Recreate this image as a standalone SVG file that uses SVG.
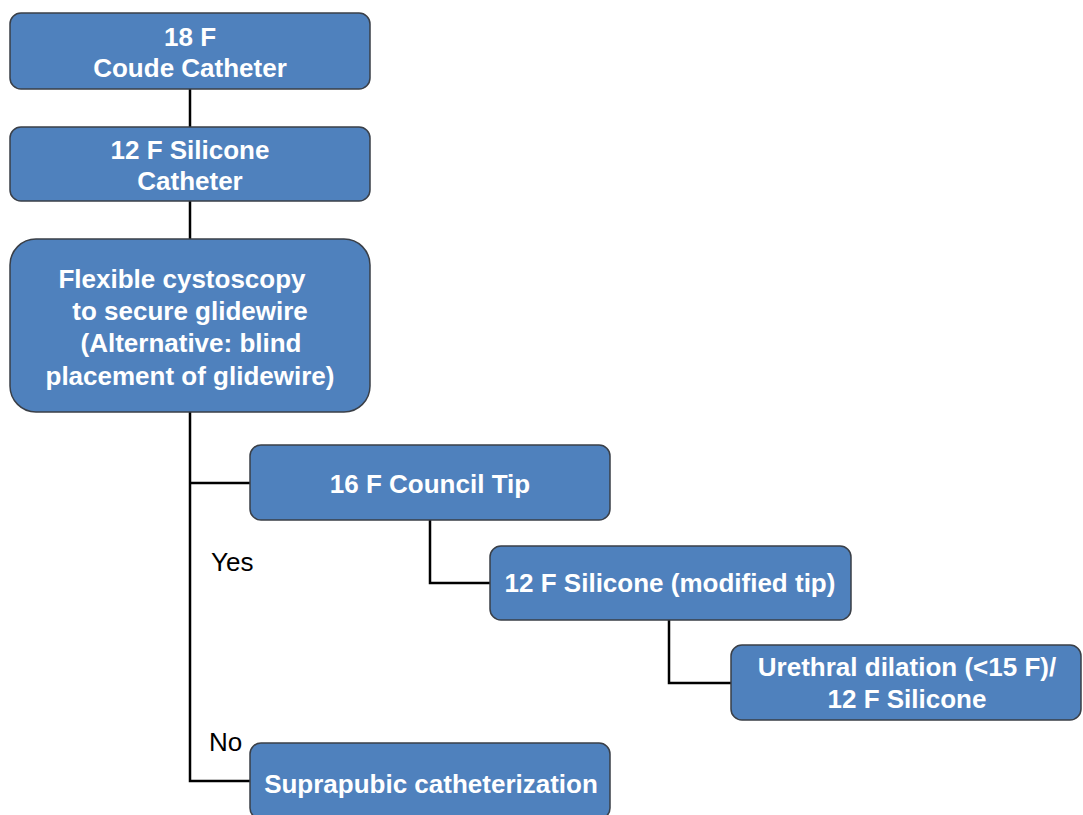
<svg xmlns="http://www.w3.org/2000/svg" width="1083" height="815" viewBox="0 0 1083 815">
<style>
.box{fill:#4F81BD;stroke:#3a3f47;stroke-width:1.5}
.t{font-family:"Liberation Sans",Arial,sans-serif;font-weight:bold;font-size:26px;fill:#ffffff;text-anchor:middle}
.lbl{font-family:"Liberation Sans",Arial,sans-serif;font-size:26px;fill:#000000}
.c{fill:none;stroke:#000000;stroke-width:2.5}
</style>
<rect width="1083" height="815" fill="#ffffff"/>
<g id="connectors">
<line class="c" x1="190" y1="89" x2="190" y2="127"/>
<line class="c" x1="190" y1="201" x2="190" y2="239"/>
<polyline class="c" points="190,412 190,781 250,781"/>
<line class="c" x1="190" y1="483" x2="250" y2="483"/>
<polyline class="c" points="430,520 430,583 490,583"/>
<polyline class="c" points="669,620 669,683 731,683"/>
</g>
<g id="n1">
<rect class="box" x="10" y="13" width="360" height="76" rx="11"/>
<text class="t" x="190" y="46">18 F</text>
<text class="t" x="190" y="77">Coude Catheter</text>
</g>
<g id="n2">
<rect class="box" x="10" y="127" width="360" height="74" rx="11"/>
<text class="t" x="190" y="159">12 F Silicone</text>
<text class="t" x="190" y="190">Catheter</text>
</g>
<g id="n3">
<rect class="box" x="10" y="239" width="360" height="173" rx="26"/>
<text class="t" x="182" y="288">Flexible cystoscopy</text>
<text class="t" x="190" y="320">to secure glidewire</text>
<text class="t" x="191" y="352">(Alternative: blind</text>
<text class="t" x="190" y="385">placement of glidewire)</text>
</g>
<g id="n4">
<rect class="box" x="250" y="445" width="360" height="75" rx="11"/>
<text class="t" x="430" y="493">16 F Council Tip</text>
</g>
<g id="n5">
<rect class="box" x="490" y="546" width="361" height="74" rx="11"/>
<text class="t" x="670" y="592">12 F Silicone (modified tip)</text>
</g>
<g id="n6">
<rect class="box" x="731" y="645" width="350" height="75" rx="11"/>
<text class="t" x="907" y="676">Urethral dilation (&lt;15 F)/</text>
<text class="t" x="907" y="708">12 F Silicone</text>
</g>
<g id="n7">
<rect class="box" x="250" y="743" width="360" height="76" rx="11"/>
<text class="t" x="431" y="793">Suprapubic catheterization</text>
</g>
<g id="labels">
<text class="lbl" x="211" y="571">Yes</text>
<text class="lbl" x="209" y="751">No</text>
</g>
</svg>
